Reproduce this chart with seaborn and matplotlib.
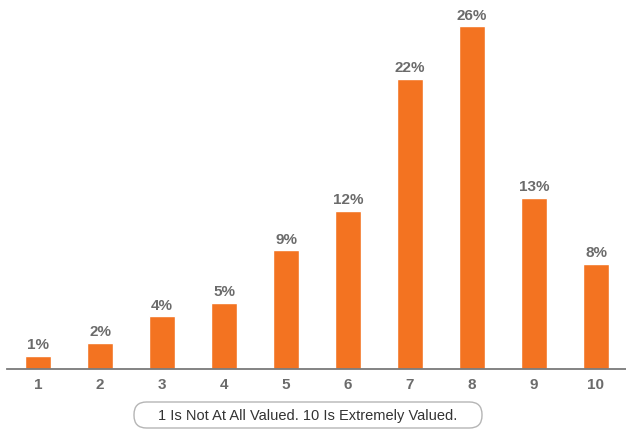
import matplotlib
matplotlib.use("Agg")
import matplotlib.pyplot as plt
from matplotlib.patches import FancyBboxPatch
from matplotlib import font_manager
import seaborn as sns
import pandas as pd

ratings = ["1", "2", "3", "4", "5", "6", "7", "8", "9", "10"]
shares = [1, 2, 4, 5, 9, 12, 22, 26, 13, 8]
caption = "1 Is Not At All Valued. 10 Is Extremely Valued."

df = pd.DataFrame({"rating": ratings, "share": shares})

sns.set_theme(style="white")
plt.rcParams["font.family"] = ["Liberation Sans", "DejaVu Sans"]

installed = {f.name for f in font_manager.fontManager.ttflist}
narrow = "Liberation Sans Narrow" if "Liberation Sans Narrow" in installed else "Liberation Sans"

W, H = 626, 431
fig = plt.figure(figsize=(W / 100, H / 100), dpi=100)
ax = fig.add_axes([7 / W, 61 / H, 620 / W, 369 / H])

sns.barplot(data=df, x="rating", y="share", color="#F37321", saturation=1,
            width=0.41, ax=ax)

for i, v in enumerate(shares):
    ax.text(i, v + 0.35, f"{v}%", ha="center", va="bottom",
            fontsize=11, fontweight="bold", color="#6b6b6b", family=narrow)

ax.set_xlim(-0.5, 9.5)
ax.set_ylim(0, 28)
ax.set_xlabel("")
ax.set_ylabel("")
ax.set_yticks([])
ax.tick_params(axis="x", length=0, pad=6, labelsize=11, colors="#6b6b6b")
for lab in ax.get_xticklabels():
    lab.set_fontweight("bold")
    lab.set_family(narrow)
for side in ["top", "right", "left"]:
    ax.spines[side].set_visible(False)
ax.spines["bottom"].set_color("#7a7a7a")
ax.spines["bottom"].set_linewidth(1.3)

# rounded caption box
bx0, bx1, by0, by1 = 134, 482, 2, 28
box = FancyBboxPatch((bx0 / W, by0 / H), (bx1 - bx0) / W, (by1 - by0) / H,
                     boxstyle="round,pad=0,rounding_size=0.02",
                     transform=fig.transFigure, fc="white", ec="#b5b5b5",
                     lw=1.0, mutation_aspect=W / H)
fig.patches.append(box)
fig.text((bx0 + bx1) / 2 / W, (by0 + by1) / 2 / H, caption, ha="center",
         va="center", fontsize=10.5, color="#333333")

fig.savefig("out.png", dpi=100)
